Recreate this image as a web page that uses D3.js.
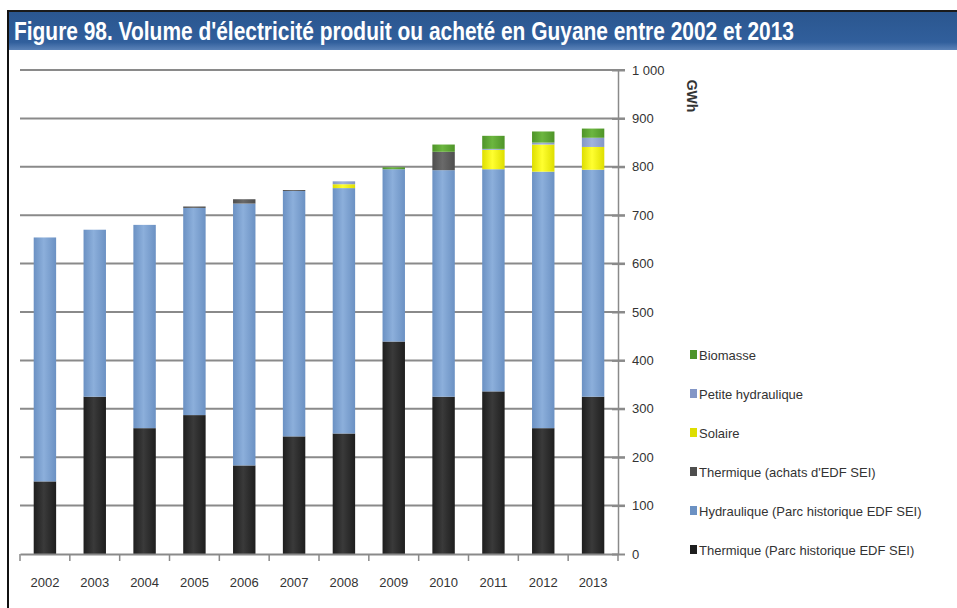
<!DOCTYPE html>
<html>
<head>
<meta charset="utf-8">
<script src="https://cdn.jsdelivr.net/npm/d3@7"></script>
<style>
  body { margin: 0; background: #fff; }
  svg { display: block; font-family: "Liberation Sans", Arial, sans-serif; }
  .tick-label { font-size: 13px; fill: #333; }
  .legend-label { font-size: 13px; fill: #333; }
</style>
</head>
<body>
<div id="chart"></div>
<script>
// Data (GWh)
const years = ["2002", "2003", "2004", "2005", "2006", "2007", "2008", "2009", "2010", "2011", "2012", "2013"];
const thermiqueParc = [150, 325, 260, 287, 183, 243, 249, 439, 325, 336, 260, 325];
const hydrauliqueParc = [504, 345, 420, 428, 541, 507, 507, 356, 468, 459, 530, 469];
const thermiqueAchats = [0, 0, 0, 3, 9, 2, 0, 0, 38, 0, 0, 0];
const solaire = [0, 0, 0, 0, 0, 0, 8, 0, 0, 40, 56, 47];
const petiteHydraulique = [0, 0, 0, 0, 0, 0, 6, 0, 0, 2, 4, 19];
const biomasse = [0, 0, 0, 0, 0, 0, 0, 4, 15, 27, 23, 19];
const yTicks = [0, 100, 200, 300, 400, 500, 600, 700, 800, 900, 1000];

// Series in stacking order (bottom to top)
const seriesNames = [
  "Thermique (Parc historique EDF SEI)",
  "Hydraulique (Parc historique EDF SEI)",
  "Thermique (achats d'EDF SEI)",
  "Solaire",
  "Petite hydraulique",
  "Biomasse"
];
const seriesValues = [thermiqueParc, hydrauliqueParc, thermiqueAchats, solaire, petiteHydraulique, biomasse];
const seriesColors = [
  ["#1e1e1e", "#3a3a3a"],
  ["#6b91c3", "#8cafdb"],
  ["#4e4e4e", "#6a6a6a"],
  ["#dede00", "#ffff30"],
  ["#8396c6", "#a2b3dc"],
  ["#4e9428", "#6cb640"]
];

const W = 957, H = 608;
const plot = { left: 20, right: 618, top: 70, bottom: 554 };

const svg = d3.select("#chart").append("svg")
  .attr("width", W)
  .attr("height", H);

const defs = svg.append("defs");
seriesColors.forEach((c, i) => {
  const g = defs.append("linearGradient")
    .attr("id", "grad" + i)
    .attr("x1", "0%").attr("x2", "100%").attr("y1", "0%").attr("y2", "0%");
  g.append("stop").attr("offset", "0%").attr("stop-color", c[0]);
  g.append("stop").attr("offset", "45%").attr("stop-color", c[1]);
  g.append("stop").attr("offset", "100%").attr("stop-color", c[0]);
});
const banner = defs.append("linearGradient")
  .attr("id", "banner")
  .attr("x1", "0%").attr("x2", "0%").attr("y1", "0%").attr("y2", "100%");
banner.append("stop").attr("offset", "0%").attr("stop-color", "#2a568f");
banner.append("stop").attr("offset", "80%").attr("stop-color", "#315f9c");
banner.append("stop").attr("offset", "100%").attr("stop-color", "#5b82b8");

// Title banner and frame
svg.append("rect")
  .attr("x", 8).attr("y", 11).attr("width", W - 8).attr("height", 39)
  .attr("fill", "url(#banner)");
svg.append("line")
  .attr("x1", 8).attr("x2", W).attr("y1", 11).attr("y2", 11)
  .attr("stroke", "#1a1a1a").attr("stroke-width", 2);
svg.append("line")
  .attr("x1", 8).attr("x2", 8).attr("y1", 10).attr("y2", H)
  .attr("stroke", "#111").attr("stroke-width", 2);
svg.append("text")
  .attr("x", 14).attr("y", 40)
  .attr("fill", "#fff")
  .attr("font-size", 25)
  .attr("font-weight", "bold")
  .attr("textLength", 780)
  .attr("lengthAdjust", "spacingAndGlyphs")
  .text("Figure 98. Volume d'électricité produit ou acheté en Guyane entre 2002 et 2013");

// Scales
const x = d3.scaleBand()
  .domain(years)
  .range([plot.left, plot.right])
  .paddingInner(0.55)
  .paddingOuter(0.275);

const y = d3.scaleLinear()
  .domain([0, 1000])
  .range([plot.bottom, plot.top]);

const fr = d3.formatLocale({ decimal: ",", thousands: " ", grouping: [3], currency: ["", " €"] });
const fmt = fr.format(",");

// Gridlines
svg.append("g")
  .selectAll("line")
  .data(yTicks.filter(t => t > 0))
  .join("line")
  .attr("x1", plot.left).attr("x2", plot.right + 7)
  .attr("y1", d => y(d)).attr("y2", d => y(d))
  .attr("stroke", "#8a8a8a").attr("stroke-width", 2);

// Stacked bars
const table = years.map((yr, i) => {
  const row = { year: yr };
  seriesNames.forEach((s, j) => { row[s] = seriesValues[j][i]; });
  return row;
});
const stacked = d3.stack().keys(seriesNames)(table);

svg.append("g")
  .selectAll("g")
  .data(stacked)
  .join("g")
  .attr("fill", (d, i) => `url(#grad${i})`)
  .selectAll("rect")
  .data(d => d.filter(p => p[1] - p[0] > 0))
  .join("rect")
  .attr("x", d => x(d.data.year))
  .attr("width", x.bandwidth())
  .attr("y", d => y(d[1]))
  .attr("height", d => y(d[0]) - y(d[1]));

// Y axis on the right
const yAxis = d3.axisRight(y)
  .tickValues(yTicks)
  .tickSize(0)
  .tickPadding(14)
  .tickFormat(d => fmt(d));
const yg = svg.append("g")
  .attr("transform", `translate(${plot.right},0)`)
  .call(yAxis);
yg.select(".domain").attr("stroke", "#8a8a8a").attr("stroke-width", 1.5);
yg.selectAll("text").attr("class", "tick-label").attr("fill", "#333");
yg.selectAll(".tick").append("line")
  .attr("x1", -6).attr("x2", 7)
  .attr("stroke", "#8a8a8a").attr("stroke-width", 2);

svg.append("text")
  .attr("transform", `translate(687,96) rotate(90)`)
  .attr("text-anchor", "middle")
  .attr("font-size", 14)
  .attr("font-weight", "bold")
  .attr("fill", "#333")
  .text("GWh");

// X axis
const xAxis = d3.axisBottom(x).tickSize(0).tickPadding(24);
const xg = svg.append("g")
  .attr("transform", `translate(0,${plot.bottom})`)
  .call(xAxis);
xg.select(".domain").attr("stroke", "#8a8a8a").attr("stroke-width", 2);
xg.selectAll("text").attr("class", "tick-label").attr("fill", "#333");
xg.append("g")
  .selectAll("line")
  .data(d3.range(years.length + 1))
  .join("line")
  .attr("x1", i => plot.left + i * x.step())
  .attr("x2", i => plot.left + i * x.step())
  .attr("y1", 0).attr("y2", 7)
  .attr("stroke", "#8a8a8a").attr("stroke-width", 1.5);

// Legend (reverse of stacking order)
const legendItems = seriesNames.map((s, i) => ({ name: s, i })).reverse();
const legend = svg.append("g").attr("transform", "translate(690,355)");
const item = legend.selectAll("g")
  .data(legendItems)
  .join("g")
  .attr("transform", (d, k) => `translate(0,${k * 39})`);
item.append("rect")
  .attr("x", 0).attr("y", -5).attr("width", 7).attr("height", 9)
  .attr("fill", d => seriesColors[d.i][0]);
item.append("text")
  .attr("class", "legend-label")
  .attr("x", 9).attr("y", 4.5)
  .text(d => d.name);
</script>
</body>
</html>
